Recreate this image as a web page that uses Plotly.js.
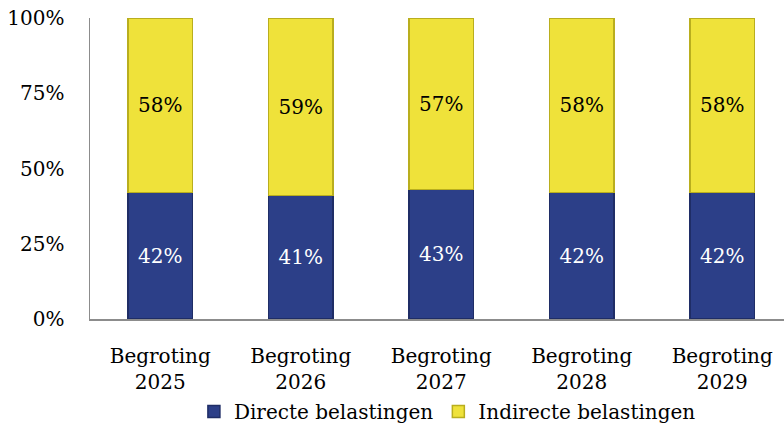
<!DOCTYPE html>
<html>
<head>
<meta charset="utf-8">
<script src="https://cdn.plot.ly/plotly-3.0.1.min.js"></script>
<style>html,body{margin:0;padding:0;background:#fff}#chart{width:784px;height:429px}</style>
</head>
<body>
<div id="chart"></div>
<script>
var categories = ["Begroting<br>2025", "Begroting<br>2026", "Begroting<br>2027", "Begroting<br>2028", "Begroting<br>2029"];
var directe = [42, 41, 43, 42, 42];
var indirecte = [58, 59, 57, 58, 58];
var seriesNames = ["Directe belastingen", "Indirecte belastingen"];
var yTickVals = [0, 25, 50, 75, 100];
var yTickText = ["0%", "25%", "50%", "75%", "100%"];

var fontFamily = "'DejaVu Serif', 'Liberation Serif', serif";

function pct(a){ return a.map(function(v){ return v + "%"; }); }

var traces = [
  {
    type: "bar", name: seriesNames[0], x: categories, y: directe,
    text: pct(directe), textposition: "inside", insidetextanchor: "middle",
    textfont: {family: fontFamily, size: 20, color: "#ffffff"},
    marker: {color: "#2C3F88", line: {color: "#1F2D66", width: 1.5}},
    width: 0.46, hoverinfo: "skip"
  },
  {
    type: "bar", name: seriesNames[1], x: categories, y: indirecte,
    text: pct(indirecte), textposition: "inside", insidetextanchor: "middle",
    textfont: {family: fontFamily, size: 20, color: "#000000"},
    marker: {color: "#EFE23A", line: {color: "#B9AE1E", width: 1.5}},
    width: 0.46, hoverinfo: "skip"
  }
];

var layout = {
  width: 784, height: 429,
  margin: {l: 90, r: 0, t: 18, b: 110},
  paper_bgcolor: "#ffffff", plot_bgcolor: "#ffffff",
  barmode: "stack",
  font: {family: fontFamily, size: 20, color: "#000000"},
  xaxis: {
    type: "category", range: [-0.5, 4.44], automargin: false,
    showgrid: false, zeroline: false,
    showline: true, linecolor: "#8C8C8C", linewidth: 1.5,
    ticks: "", ticklabelstandoff: 18,
    tickfont: {family: fontFamily, size: 20, color: "#000000"},
    fixedrange: true
  },
  yaxis: {
    range: [0, 100], tickvals: yTickVals, ticktext: yTickText, automargin: false,
    showgrid: false, zeroline: false,
    showline: true, linecolor: "#8C8C8C", linewidth: 1.5,
    ticks: "", ticklabelstandoff: 20,
    tickfont: {family: fontFamily, size: 20, color: "#000000"},
    fixedrange: true
  },
  showlegend: true,
  legend: {
    orientation: "h", x: 0.515, xanchor: "center",
    yref: "container", y: 0.086, yanchor: "top",
    font: {family: fontFamily, size: 20, color: "#000000"},
    traceorder: "normal", itemwidth: 30, bgcolor: "rgba(0,0,0,0)"
  }
};

Plotly.newPlot("chart", traces, layout, {displayModeBar: false, staticPlot: true});
</script>
</body>
</html>
